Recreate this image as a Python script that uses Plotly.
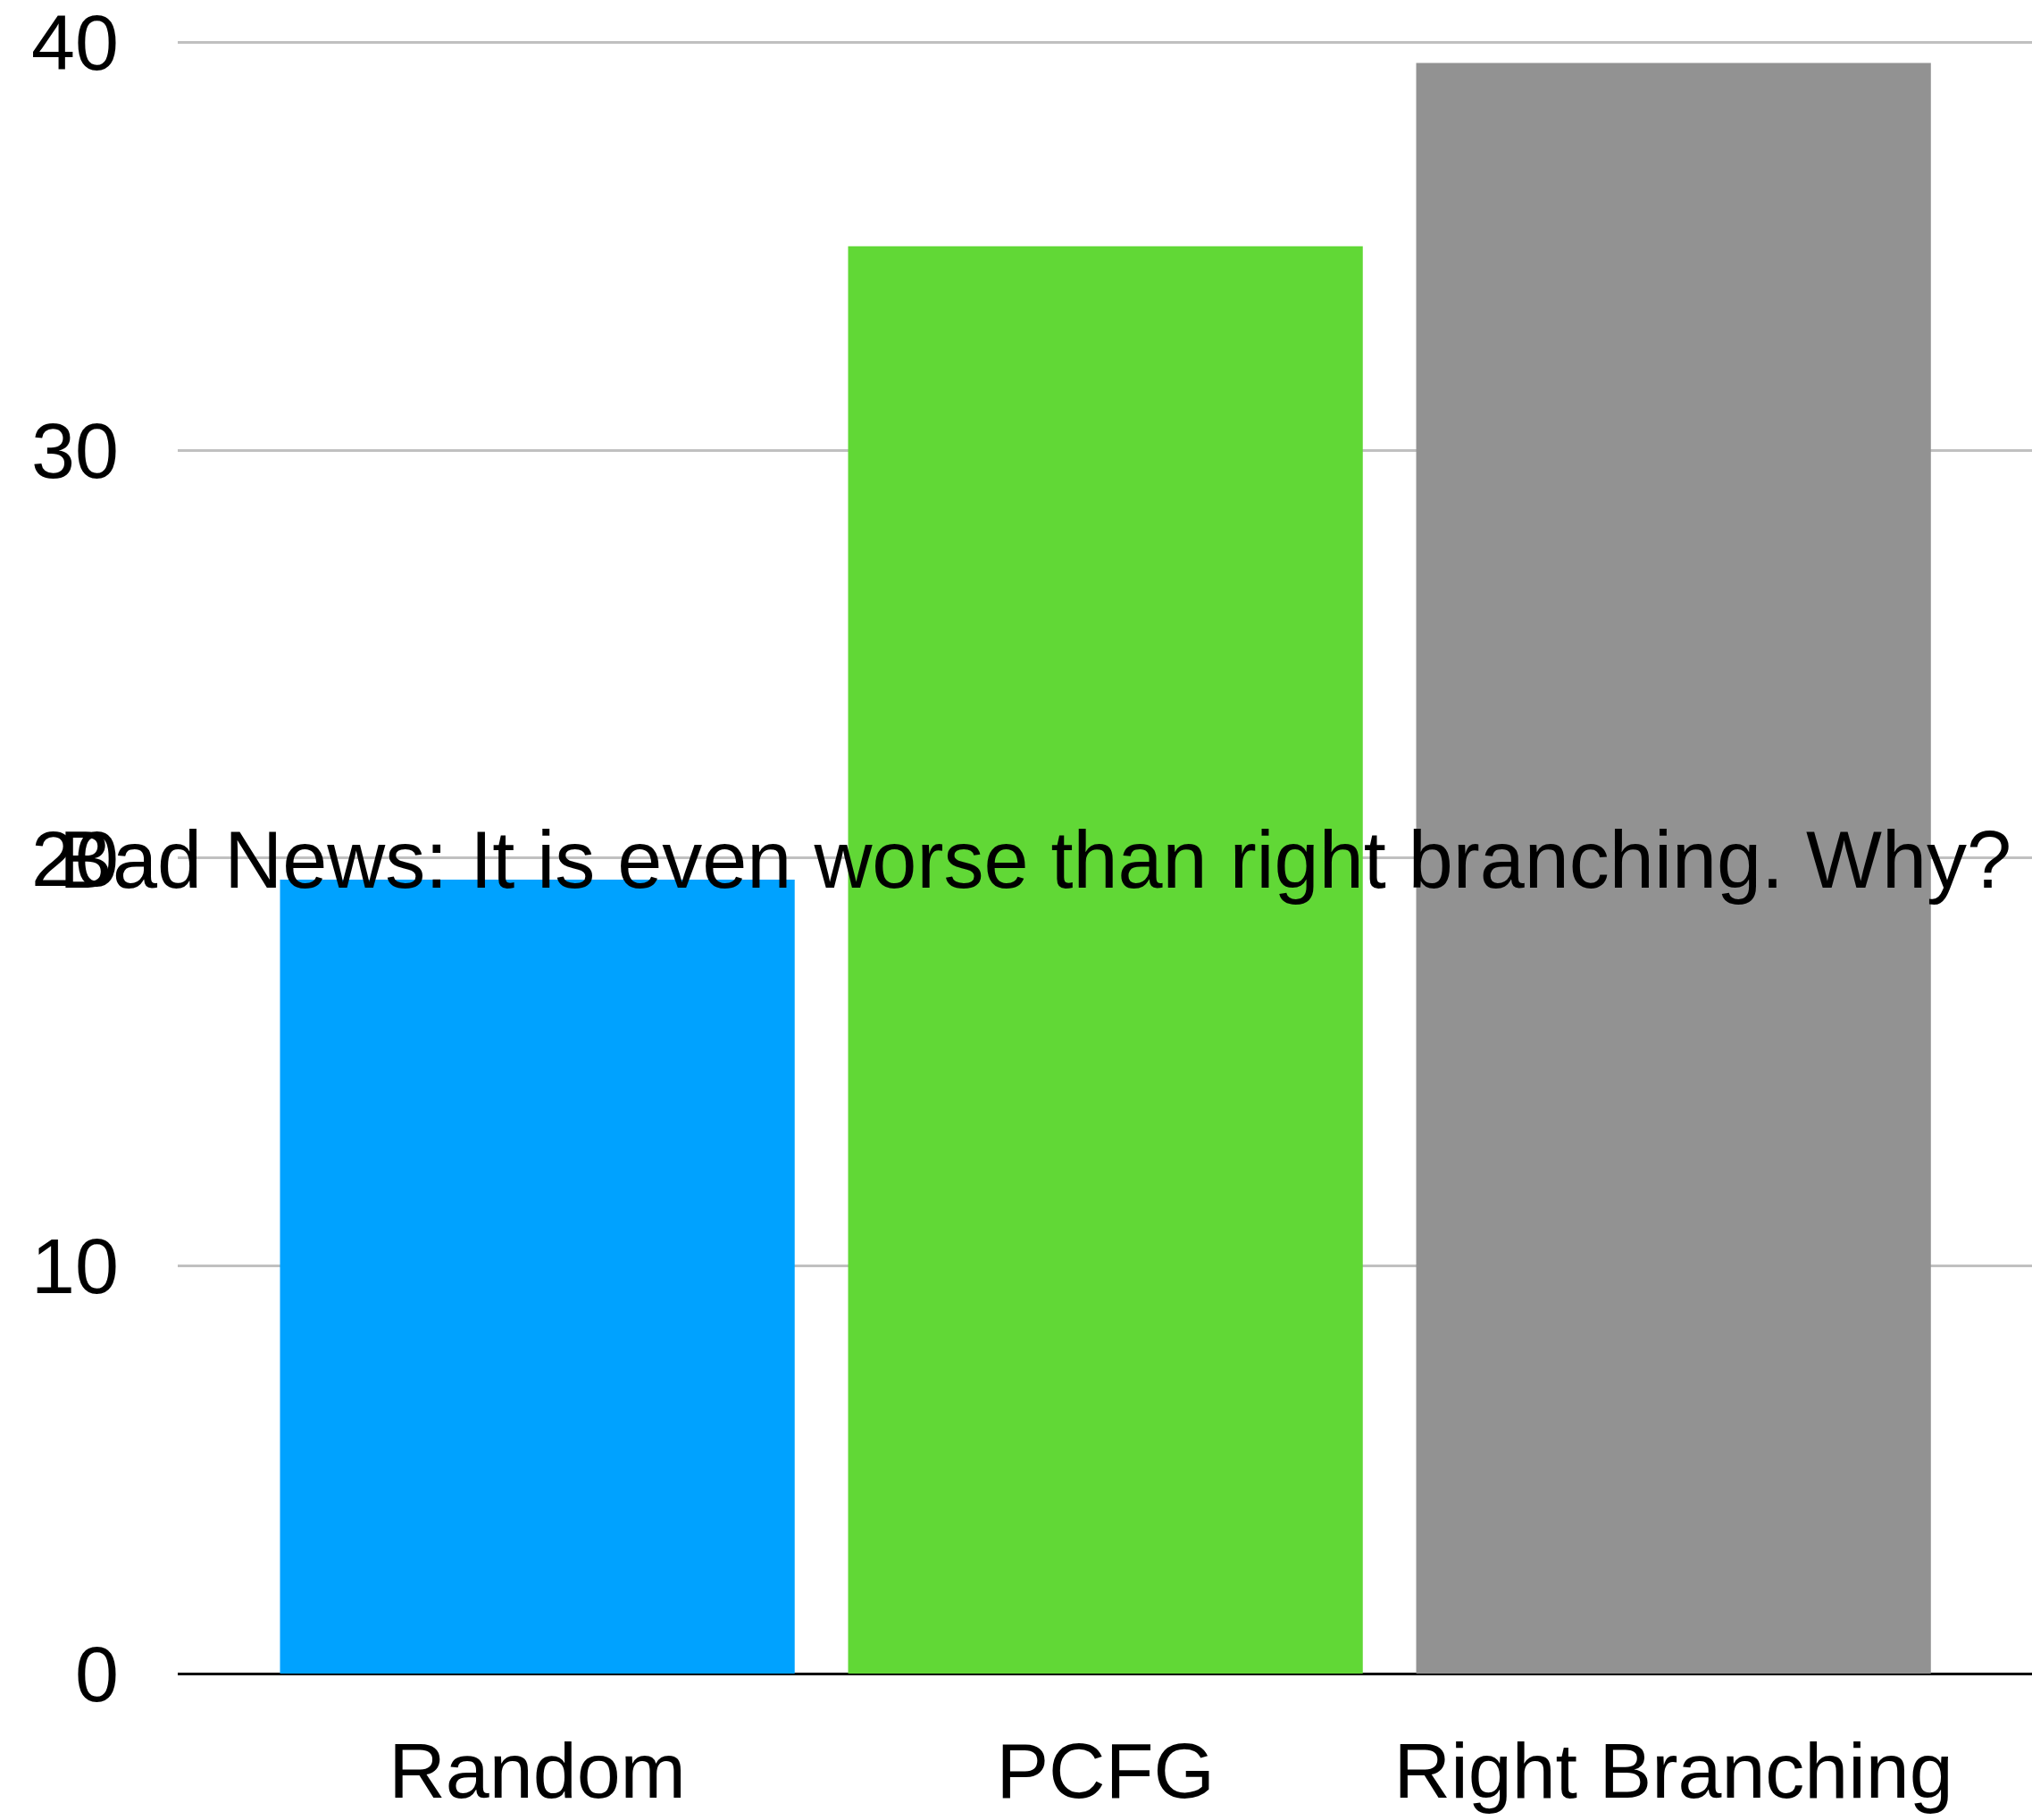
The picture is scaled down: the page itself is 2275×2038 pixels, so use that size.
import plotly.graph_objects as go

categories = ["Random", "PCFG", "Right Branching"]
values = [19.47, 35.0, 39.5]
colors = ["#00A2FF", "#61D836", "#929292"]
title_text = "Bad News: It is even worse than right branching. Why?"
y_ticks = [0, 10, 20, 30, 40]

FONT = "Liberation Sans, Arial, Helvetica, sans-serif"

fig = go.Figure(
    go.Bar(
        x=[0, 1, 2],
        y=values,
        marker=dict(color=colors, line=dict(width=0)),
        width=0.906,
        hoverinfo="skip",
    )
)

fig.update_layout(
    width=2275,
    height=2038,
    margin=dict(l=199, r=0, t=43, b=164, autoexpand=False),
    paper_bgcolor="white",
    plot_bgcolor="white",
    showlegend=False,
    font=dict(family=FONT, size=88, color="black"),
    title=dict(
        text=title_text,
        font=dict(family=FONT, size=90, color="black"),
        xref="container",
        yref="container",
        x=66 / 2275,
        xanchor="left",
        y=1 - 962 / 2038,
        yanchor="middle",
    ),
)

fig.update_xaxes(
    range=[-0.633, 2.631],
    tickmode="array",
    tickvals=[0, 1, 2],
    ticktext=categories,
    showgrid=False,
    zeroline=False,
    showline=False,
    ticks="",
    ticklabelstandoff=50,
    tickfont=dict(family=FONT, size=88, color="black"),
)

fig.update_yaxes(
    range=[0, 40.1],
    tickmode="array",
    tickvals=y_ticks,
    showgrid=True,
    gridcolor="#C0C0C0",
    gridwidth=3,
    zeroline=True,
    zerolinecolor="black",
    zerolinewidth=3,
    showline=False,
    ticks="",
    ticklabelstandoff=65,
    ticklabeloverflow="allow",
    tickfont=dict(family=FONT, size=88, color="black"),
)

fig.write_html("out.html")
